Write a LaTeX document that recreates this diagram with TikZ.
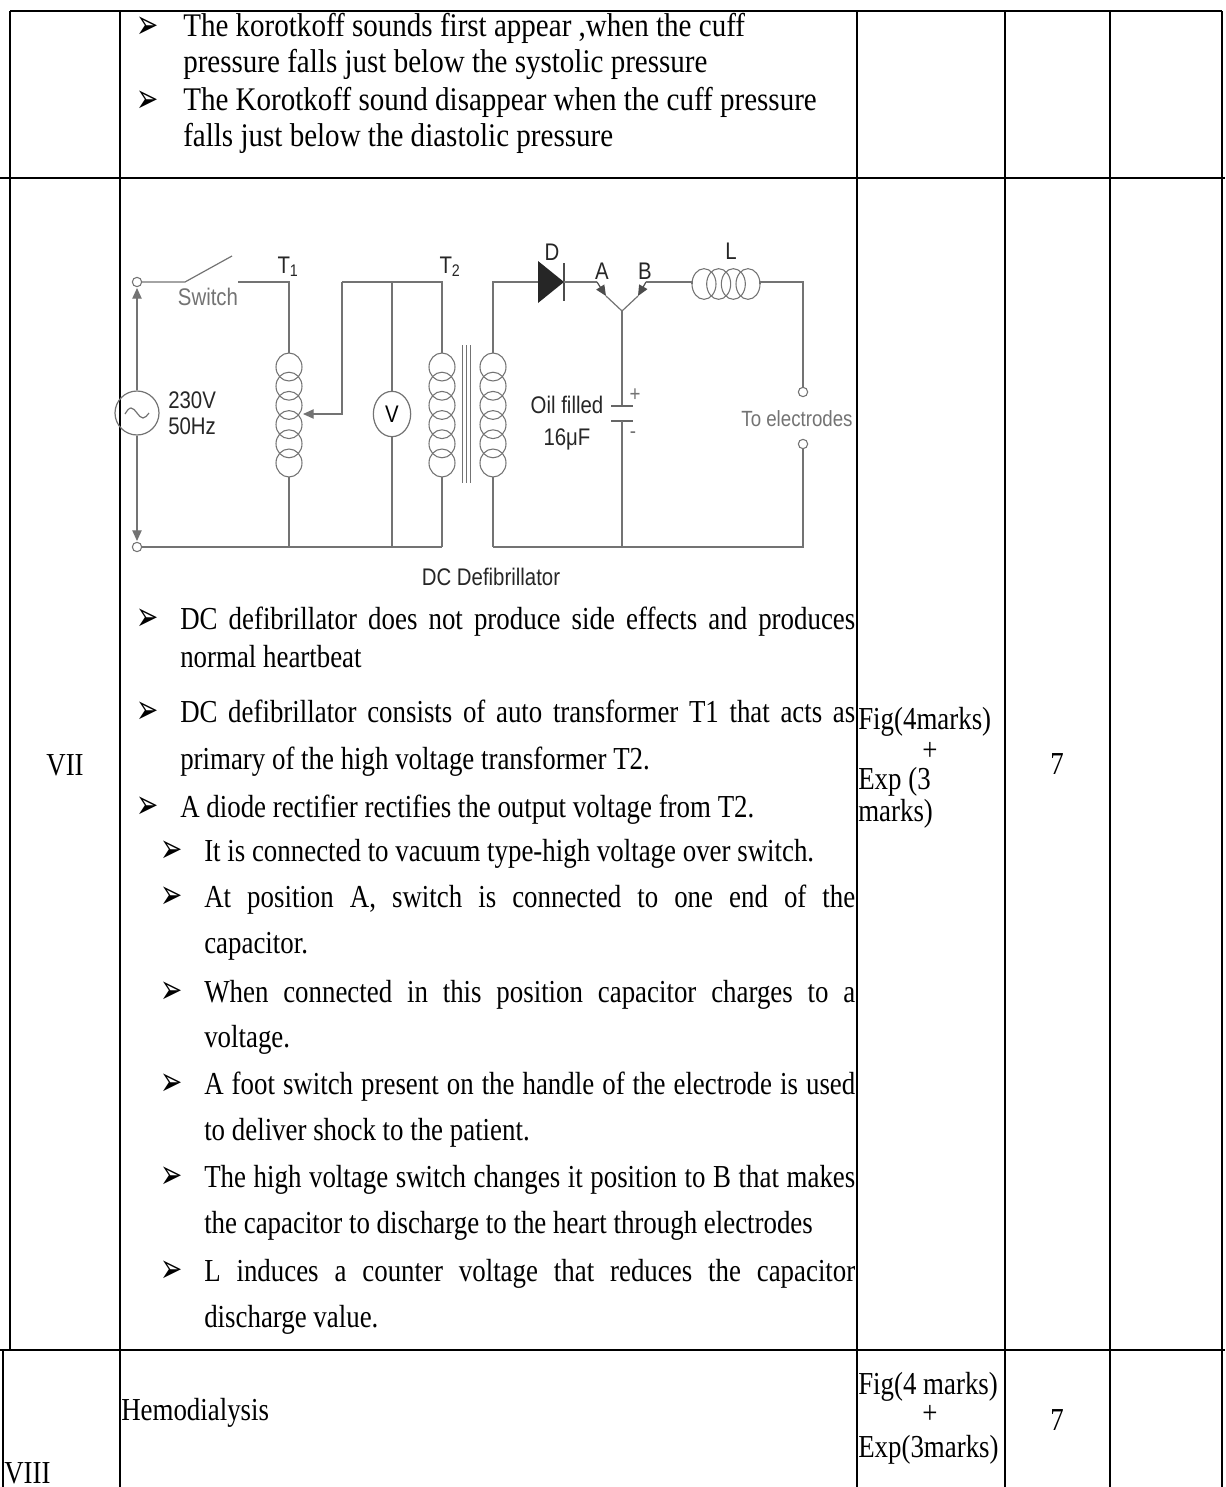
\documentclass[tikz,border=0pt]{standalone}
\usepackage{fontspec}
\setmainfont{Liberation Serif}
\setsansfont{Liberation Sans}
\newfontfamily\symfont{DejaVu Sans}
\usepackage{graphicx}
\usetikzlibrary{arrows.meta,shapes.geometric}
\newcommand\RT[1]{\scalebox{0.84}[1]{\fontsize{24}{28}\selectfont #1}}
\newcommand\RJ[2]{\scalebox{0.84}[1]{\fontsize{24}{28}\selectfont\makebox[#1][s]{#2}}}
\newcommand\RO[1]{\scalebox{0.88}[1]{\fontsize{24.75}{28}\selectfont #1}}
\newcommand\CT[1]{\scalebox{0.85}[1]{\sffamily\fontsize{18}{20}\selectfont #1}}
\newcommand\CS[1]{\scalebox{0.85}[1]{\sffamily\fontsize{16.5}{18}\selectfont #1}}
\newcommand\BL{\raisebox{-1pt}{\scalebox{0.95}[1.45]{\fontsize{21}{22}\symfont ➢}}}
\tikzset{
  tline/.style={line width=1.4pt, black},
  wire/.style={draw=black!55, line width=0.9pt},
  tx/.style={anchor=base west, inner sep=0pt},
  txc/.style={anchor=base, inner sep=0pt},
  term/.style={circle, draw=black!55, line width=0.8pt, fill=white, inner sep=0pt, minimum size=7pt},
  loopv/.style={draw=black!55, line width=0.8pt, x radius=9.75pt, y radius=10.5pt},
  looph/.style={draw=black!55, line width=0.8pt, x radius=9pt, y radius=11.5pt},
  tipA/.style={-{Triangle[length=8pt,width=7pt]}},
  lbl/.style={anchor=base, inner sep=0pt, text=black!85},
  glbl/.style={anchor=base, inner sep=0pt, text=black!55}
}
\begin{document}
\begin{tikzpicture}[x=0.75pt,y=-0.75pt]
\useasboundingbox (0,0) rectangle (1225,1487);
% ---------------- table grid ----------------
\coordinate (gTL) at (10,11);   \coordinate (gTR) at (1222,11);
\coordinate (r1L) at (0,178);   \coordinate (r1R) at (1225,178);
\coordinate (r2L) at (0,1350);  \coordinate (r2R) at (1225,1350);
\draw[tline] (gTL) -- (gTR);
\draw[tline] (r1L) -- (r1R);
\draw[tline] (r2L) -- (r2R);
\draw[tline] (gTL) -- (10,1350);
\draw[tline] (3,1350) -- (3,1487);
\foreach \cx in {120,857,1005,1110,1222}{\draw[tline] (\cx,11) -- (\cx,1487);}
% ---------------- row 1 ----------------
\node[tx] (b01) at (136,37) {\BL};
\node[tx] (r01) at (183,37) {\RO{The korotkoff sounds first appear ,when the cuff}};
\node[tx] (r02) at (183,73) {\RO{pressure falls just below the systolic pressure}};
\node[tx] (b02) at (136,111) {\BL};
\node[tx] (r03) at (183,111) {\RO{The Korotkoff sound disappear when the cuff pressure}};
\node[tx] (r04) at (183,147) {\RO{falls just below the diastolic pressure}};
% ---------------- circuit ----------------
\node[term] (tA) at (137,282) {};
\node[term] (tB) at (137,547) {};
\node[circle, draw=black!55, line width=0.9pt, minimum size=33pt, inner sep=0pt] (ac) at (137,413) {};
\draw[wire] (125,414) sin (131,408) cos (137,413) sin (143,418) cos (149,413);
\coordinate (aU) at (137,288);
\coordinate (aD) at (137,541);
\draw[wire, tipA] (ac.north) -- (aU);
\draw[wire, tipA] (ac.south) -- (aD);
\node[tx, text=black!85] (v230) at (168,408) {\CT{230V}};
\node[tx, text=black!85] (hz50) at (168,434) {\CT{50Hz}};
% switch
\coordinate (sw0) at (185,282);
\coordinate (sw1) at (232,256);
\coordinate (sw2) at (238,282);
\draw[wire] (tA.east) -- (sw0) -- (sw1);
\node[glbl] (swl) at (208,305) {\CT{Switch}};
% T1
\coordinate (t1top) at (289,353);
\coordinate (t1bot) at (289,477);
\coordinate (t1gnd) at (289,547);
\draw[wire] (sw2) -| (t1top);
\foreach \ky in {367,386.2,...,463.5}{\draw[loopv] (289,\ky) ellipse [];}
\draw[wire] (t1bot) -- (t1gnd);
\node[lbl] (T1l) at (288,273) {\CT{T\textsubscript{1}}};
% wiper
\coordinate (wtop) at (342,282);
\coordinate (wmid) at (342,414);
\coordinate (wtip) at (303,414);
\draw[wire, tipA] (wtop) -- (wmid) -- (wtip);
% voltmeter
\node[ellipse, draw=black!55, line width=0.9pt, minimum width=28pt, minimum height=34pt, inner sep=0pt] (vm) at (392,414) {\CT{V}};
\coordinate (vmT) at (392,282);
\coordinate (vmB) at (392,547);
\draw[wire] (vmT) -- (vm.north);
\draw[wire] (vm.south) -- (vmB);
% T2 primary
\coordinate (ptopU) at (442,282);
\coordinate (ptop) at (442,353);
\coordinate (pbot) at (442,477);
\coordinate (pgnd) at (442,547);
\draw[wire] (wtop) -- (ptopU) -- (ptop);
\foreach \ky in {367,386.2,...,463.5}{\draw[loopv] (442,\ky) ellipse [];}
\draw[wire] (pbot) -- (pgnd);
\draw[wire] (tB.east) -- (pgnd);
% core
\foreach \kx in {462,466,470}{\draw[draw=black!55, line width=0.7pt] (\kx,345) -- (\kx,483);}
\node[lbl] (T2l) at (450,273) {\CT{T\textsubscript{2}}};
% T2 secondary
\coordinate (stop) at (493,353);
\coordinate (sbot) at (493,477);
\coordinate (stopU) at (493,282);
\coordinate (sgnd) at (493,547);
\coordinate (dA) at (538,282);
\coordinate (dK) at (564,282);
\foreach \ky in {367,386.2,...,463.5}{\draw[loopv] (493,\ky) ellipse [];}
\draw[wire] (stop) -- (stopU) -- (dA);
\draw[wire] (sbot) -- (sgnd);
% diode
\fill[black!85] (538,261) -- (538,303) -- (dK) -- cycle;
\draw[draw=black!70, line width=1pt] (564,263) -- (564,301);
\node[lbl] (Dl) at (552,261) {\CT{D}};
% HV switch
\coordinate (aw) at (597,282);
\coordinate (aT) at (606,296);
\coordinate (piv) at (622,311);
\coordinate (bw) at (646,282);
\coordinate (bT) at (638,296);
\draw[wire] (dK) -- (aw);
\draw[wire, tipA, draw=black!70] (aw) -- (aT);
\draw[wire] (aT) -- (piv) -- (bT);
\draw[wire, tipA, draw=black!70] (bw) -- (bT);
\node[lbl] (Al) at (602,279) {\CT{A}};
\node[lbl] (Bl) at (645,279) {\CT{B}};
% capacitor
\coordinate (c1) at (622,406);
\coordinate (c2) at (622,421);
\coordinate (cg) at (622,547);
\draw[wire] (piv) -- (c1);
\draw[draw=black!60, line width=1pt] (611,406) -- (633,406);
\draw[draw=black!60, line width=1pt] (611,421) -- (633,421);
\draw[wire] (c2) -- (cg);
\node[glbl] (cp) at (635,401) {\CS{+}};
\node[glbl] (cm) at (633,438) {\CS{-}};
\node[lbl] (oil) at (567,413) {\CT{Oil filled}};
\node[lbl] (cap) at (567,445) {\CT{16μF}};
% inductor
\coordinate (l1) at (692,284);
\coordinate (l2) at (760,284);
\coordinate (eT) at (803,282);
\draw[wire] (bw) -- (692,282) -- (l1);
\foreach \kx in {704,718.67,733.33,748}{\draw[looph] (\kx,284) ellipse [];}
\node[lbl] (Ll) at (731,259) {\CT{L}};
\node[term] (e1) at (803,392) {};
\node[term] (e2) at (803,444) {};
\draw[wire] (l2) -- (760,282) -- (eT) -- (e1.north);
\coordinate (eB) at (803,547);
\draw[wire] (e2.south) -- (eB) -- (sgnd);
\node[glbl] (toel) at (797,426) {\CS{To electrodes}};
\node[lbl] (cap2) at (491,585) {\CT{DC Defibrillator}};
% ---------------- row 2 text ----------------
\node[tx] (b1) at (136,629) {\BL};
\node[tx] (l1a) at (180,629) {\RJ{602.7pt}{DC defibrillator does not produce side effects and produces}};
\node[tx] (l1b) at (180,667) {\RT{normal heartbeat}};
\node[tx] (b2) at (136,722) {\BL};
\node[tx] (l2a) at (180,722) {\RJ{602.7pt}{DC defibrillator consists of auto transformer T1 that acts as}};
\node[tx] (l2b) at (180,769) {\RT{primary of the high voltage transformer T2.}};
\node[tx] (b3) at (136,817) {\BL};
\node[tx] (l3a) at (180,817) {\RT{A diode rectifier rectifies the output voltage from T2.}};
\node[tx] (b4) at (160,861) {\BL};
\node[tx] (l4a) at (204,861) {\RT{It is connected to vacuum type-high voltage over switch.}};
\node[tx] (b5) at (160,907) {\BL};
\node[tx] (l5a) at (204,907) {\RJ{581.25pt}{At position A, switch is connected to one end of the}};
\node[tx] (l5b) at (204,953) {\RT{capacitor.}};
\node[tx] (b6) at (160,1002) {\BL};
\node[tx] (l6a) at (204,1002) {\RJ{581.25pt}{When connected in this position capacitor charges to a}};
\node[tx] (l6b) at (204,1047) {\RT{voltage.}};
\node[tx] (b7) at (160,1094) {\BL};
\node[tx] (l7a) at (204,1094) {\RJ{581.25pt}{A foot switch present on the handle of the electrode is used}};
\node[tx] (l7b) at (204,1140) {\RT{to deliver shock to the patient.}};
\node[tx] (b8) at (160,1187) {\BL};
\node[tx] (l8a) at (204,1187) {\RJ{581.25pt}{The high voltage switch changes it position to B that makes}};
\node[tx] (l8b) at (204,1233) {\RT{the capacitor to discharge to the heart through electrodes}};
\node[tx] (b9) at (160,1281) {\BL};
\node[tx] (l9a) at (204,1281) {\RJ{581.25pt}{L induces a counter voltage that reduces the capacitor}};
\node[tx] (l9b) at (204,1327) {\RT{discharge value.}};
% row 2 other columns
\node[txc] (vii) at (65,775) {\RT{VII}};
\node[tx] (f1) at (858,729) {\RT{Fig(4marks)}};
\node[txc] (p1) at (930,760) {\RT{+}};
\node[tx] (e1t) at (858,789) {\RT{Exp (3}};
\node[tx] (e1u) at (858,821) {\RT{marks)}};
\node[txc] (m1) at (1057,774) {\RT{7}};
% ---------------- row 3 ----------------
\node[tx] (hemo) at (121,1420) {\RT{Hemodialysis}};
\node[tx] (viii) at (4,1483) {\RT{VIII}};
\node[tx] (f2) at (858,1394) {\RT{Fig(4 marks)}};
\node[txc] (p2) at (930,1423) {\RT{+}};
\node[tx] (e2t) at (858,1457) {\RT{Exp(3marks)}};
\node[txc] (m2) at (1057,1430) {\RT{7}};
\end{tikzpicture}
\end{document}
